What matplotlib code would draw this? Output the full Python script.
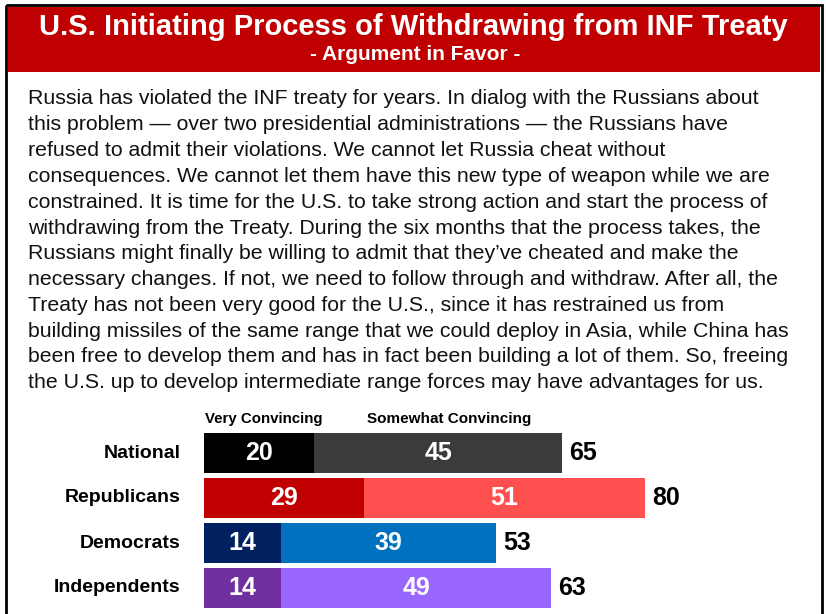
import matplotlib.pyplot as plt
from matplotlib.patches import Rectangle

groups = ["National", "Republicans", "Democrats", "Independents"]
very = [20, 29, 14, 14]
somewhat = [45, 51, 39, 49]
totals = [65, 80, 53, 63]
dark_cols = ["#000000", "#c00000", "#002060", "#7030a0"]
light_cols = ["#3b3b3b", "#ff5050", "#0070c0", "#9966ff"]

title = "U.S. Initiating Process of Withdrawing from INF Treaty"
subtitle = "- Argument in Favor -"
para = [
    "Russia has violated the INF treaty for years. In dialog with the Russians about",
    "this problem \u2014 over two presidential administrations \u2014 the Russians have",
    "refused to admit their violations. We cannot let Russia cheat without",
    "consequences. We cannot let them have this new type of weapon while we are",
    "constrained. It is time for the U.S. to take strong action and start the process of",
    "withdrawing from the Treaty. During the six months that the process takes, the",
    "Russians might finally be willing to admit that they\u2019ve cheated and make the",
    "necessary changes. If not, we need to follow through and withdraw. After all, the",
    "Treaty has not been very good for the U.S., since it has restrained us from",
    "building missiles of the same range that we could deploy in Asia, while China has",
    "been free to develop them and has in fact been building a lot of them. So, freeing",
    "the U.S. up to develop intermediate range forces may have advantages for us.",
]

plt.rcParams["font.family"] = ["Liberation Sans", "DejaVu Sans"]

W, H = 826, 614
fig = plt.figure(figsize=(W / 100, H / 100), dpi=100)
bg = fig.add_axes([0, 0, 1, 1])
bg.set_xlim(0, W)
bg.set_ylim(H, 0)
bg.axis("off")

# frame and header
bg.add_patch(Rectangle((6, 5), 816, 620, fill=False, ec="black", lw=2))
bg.add_patch(Rectangle((8, 7), 812, 65, fc="#c00000", ec="none"))
bg.text(413, 27, title, color="white", fontsize=21, fontweight="bold",
        ha="center", va="center")
bg.text(415, 54, subtitle, color="white", fontsize=15, fontweight="bold",
        ha="center", va="center")

for i, line in enumerate(para):
    bg.text(28, 99 + i * 25.8, line, fontsize=15.3, ha="left", va="center",
            color="#111111")

bg.text(205, 419, "Very Convincing", fontsize=10.8, fontweight="bold", ha="left", va="center")
bg.text(367, 419, "Somewhat Convincing", fontsize=11, fontweight="bold", ha="left", va="center")

# bars
ax = fig.add_axes([204 / W, 1 - 610.5 / H, 441 / W, 180 / H])
ax.set_xlim(0, 80)
ax.set_ylim(3.5, -0.5)
ax.axis("off")
ypos = range(len(groups))
ax.barh(ypos, very, height=0.88, color=dark_cols)
ax.barh(ypos, somewhat, left=very, height=0.88, color=light_cols)
for y, g, v, s, t in zip(ypos, groups, very, somewhat, totals):
    ax.text(-4.2, y, g, ha="right", va="center", fontsize=14, fontweight="bold")
    ax.text(v / 2, y, str(v), ha="center", va="center", fontsize=18,
            fontweight="bold", color="white")
    ax.text(v + s / 2, y, str(s), ha="center", va="center", fontsize=18,
            fontweight="bold", color="white")
    ax.text(t + 1.3, y, str(t), ha="left", va="center", fontsize=18,
            fontweight="bold", color="black")

fig.savefig("out.png", dpi=100)
